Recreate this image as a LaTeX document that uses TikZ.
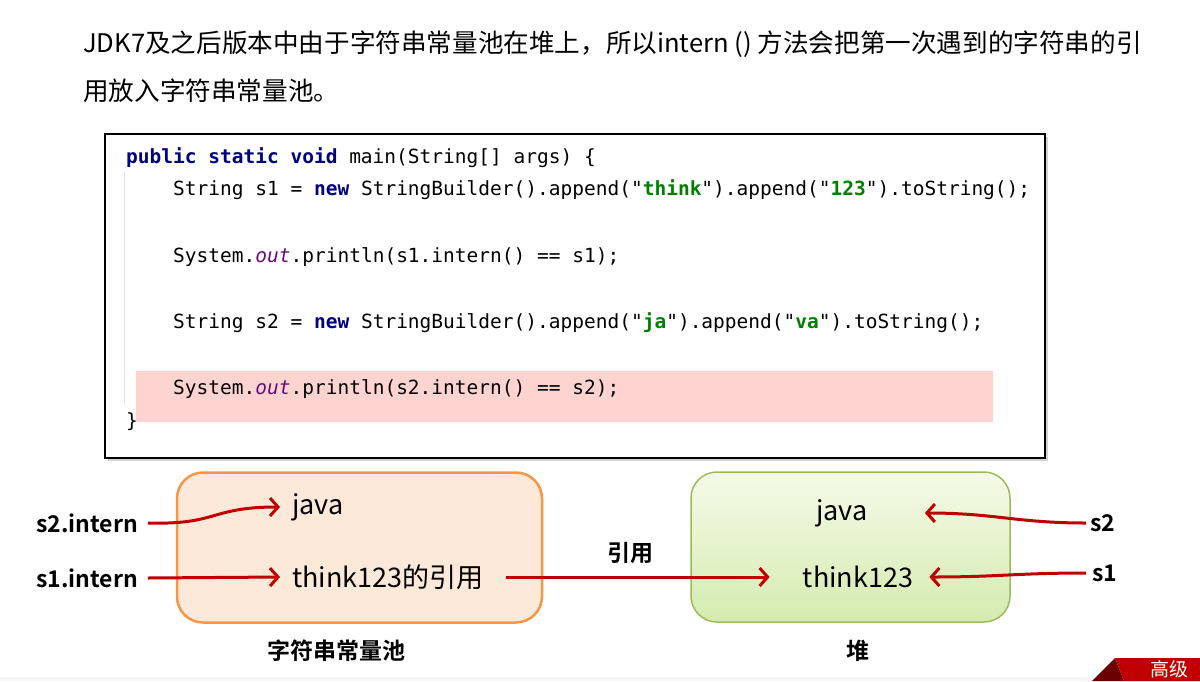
\documentclass[tikz,border=0pt]{standalone}
\usepackage{fontspec}
\usepackage{xcolor}
\usetikzlibrary{arrows.meta,positioning,shadows}
\setmainfont{Noto Sans CJK SC}[BoldFont={Noto Sans CJK SC Bold}]
\newfontfamily\codefont{DejaVu Sans Mono}
\definecolor{kwblue}{HTML}{000080}
\definecolor{strgreen}{HTML}{008000}
\definecolor{fldpurple}{HTML}{660E7A}
\definecolor{hlpink}{HTML}{FFD3CF}
\definecolor{poolfill}{HTML}{FDE9D9}
\definecolor{pooldraw}{HTML}{F79646}
\definecolor{heapdraw}{HTML}{9BBB59}
\definecolor{heaptop}{HTML}{F5FAE8}
\definecolor{heapbot}{HTML}{D5EBB0}
\definecolor{arrred}{HTML}{C00000}
\newcommand{\kw}[1]{\textcolor{kwblue}{\textbf{#1}}}
\newcommand{\jstr}[1]{"\textcolor{strgreen}{\textbf{#1}}"}
\newcommand{\jfld}[1]{\textcolor{fldpurple}{\textit{#1}}}

\begin{document}
\begin{tikzpicture}[x=1pt, y=-1pt,
  code/.style={anchor=base west, inner sep=0pt, font=\codefont\fontsize{19.5}{23}\selectfont},
  box/.style={rectangle, rounded corners=26pt, minimum height=150pt},
  item/.style={inner sep=0pt, font=\fontsize{27}{32}\selectfont},
  lbl/.style={inner sep=0pt, font=\fontsize{23}{28}\selectfont\bfseries},
  arr/.style={-{Straight Barb[length=8pt,width=18pt]}, line width=3pt, draw=arrred}
]
\useasboundingbox (0,0) rectangle (1200,681);
% Title
\node[anchor=base west, inner sep=0pt, font=\fontsize{25.6}{30}\selectfont] (title1) at (83,52)
  {JDK7及之后版本中由于字符串常量池在堆上，所以intern () 方法会把第一次遇到的字符串的引};
\node[anchor=base west, inner sep=0pt, font=\fontsize{25.6}{30}\selectfont] (title2) at (83,100)
  {用放入字符串常量池。};
% Code panel
\node[draw, line width=2pt, fill=white, minimum width=940pt, minimum height=324pt,
  drop shadow={shadow xshift=2.5pt, shadow yshift=-2.5pt, opacity=.35}] (panel) at (575,296) {};
\node[fill=hlpink, inner sep=0pt, minimum width=857pt, minimum height=51pt] (hl) at (564.5,396.5) {};
\draw[gray!20, line width=1pt] (124,172) -- (124,405);
\node[code] (c1) at (126,163) {\kw{public static void} main(String[] args) \{};
\node[code] (c2) at (173,195) {String s1 = \kw{new} StringBuilder().append(\jstr{think}).append(\jstr{123}).toString();};
\node[code] (c3) at (173,262) {System.\jfld{out}.println(s1.intern() == s1);};
\node[code] (c4) at (173,328) {String s2 = \kw{new} StringBuilder().append(\jstr{ja}).append(\jstr{va}).toString();};
\node[code] (c5) at (173,394) {System.\jfld{out}.println(s2.intern() == s2);};
\node[code] (c6) at (126,427) {\}};
% Left: string constant pool
\node[box, draw=pooldraw, line width=2.5pt, fill=poolfill, minimum width=365pt] (pool) at (359.5,547.5) {};
\node[item, anchor=west] (pjava) at (292,507) {java};
\node[item, anchor=west] (pthink) at (292,577) {think123的引用};
\node[lbl] (poolname) at (336,651) {字符串常量池};
\node[lbl, anchor=east] (s2int) at (138,523) {s2.intern};
\node[lbl, anchor=east] (s1int) at (138,578) {s1.intern};
% Right: heap
\node[box, draw=heapdraw, line width=1.5pt, top color=heaptop, bottom color=heapbot, minimum width=319pt] (heap) at (850.5,547) {};
\node[item] (hjava) at (842,513) {java};
\node[item] (hthink) at (858,577) {think123};
\node[lbl] (heapname) at (858,651) {堆};
\node[lbl, anchor=west] (s2) at (1090,523) {s2};
\node[lbl, anchor=west] (s1) at (1092,573) {s1};
\node[lbl] (ref) at (630,553) {引用};
% Arrows
\draw[arr] ([xshift=10pt]s2int.east) .. controls +(70,2) and +(-70,0) .. ([xshift=-12pt]pjava.west);
\draw[arr] ([xshift=10pt]s1int.east) -- ([xshift=-12pt]pthink.west);
\draw[arr] ([xshift=22pt]pthink.east) -- ([xshift=-33pt]hthink.west);
\draw[arr] ([xshift=-4pt]s2.west) .. controls +(-70,0) and +(70,0) .. ([xshift=57pt]hjava.east);
\draw[arr] ([xshift=-6pt]s1.west) .. controls +(-70,0) and +(70,0) .. ([xshift=16pt]hthink.east);
% Corner badge
\fill[gray!8] (0,677) rectangle (1200,681);
\fill[arrred!55!black] (1092,681) -- (1115,658) -- (1124,681) -- cycle;
\fill[arrred] (1115,658) -- (1200,658) -- (1200,681) -- (1124,681) -- cycle;
\node[anchor=west, inner sep=0pt, text=white, font=\fontsize{19}{22}\selectfont] (badge) at (1150,669.5) {高级};
\end{tikzpicture}
\end{document}
